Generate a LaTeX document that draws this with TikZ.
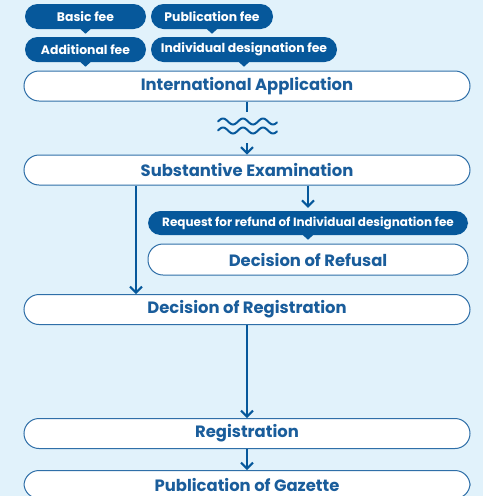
\documentclass[tikz,border=0pt]{standalone}
\usepackage{fontspec}
\setmainfont{Poppins}
\usetikzlibrary{arrows.meta}
\definecolor{bg}{HTML}{E1F2FB}
\definecolor{navy}{HTML}{06589B}
\definecolor{txt}{HTML}{1A5D9B}
\definecolor{edge}{HTML}{2F6FA8}
\begin{document}
\begin{tikzpicture}[x=1pt,y=-1pt,
  box/.style={draw=edge, line width=1pt, fill=white, rounded corners=15pt,
    minimum width=446pt, minimum height=30pt, inner sep=0pt, text=txt,
    font=\fontsize{16.4}{16}\selectfont\bfseries},
  tag/.style={fill=navy, rounded corners=12.5pt, minimum height=25pt,
    inner sep=0pt, text=white, font=\fontsize{12.4}{12}\selectfont\bfseries},
  conn/.style={draw=navy, line width=2pt},
  arr/.style={conn, -{Straight Barb[length=6pt,width=12pt,line width=2pt]}},
  wave/.style={draw=navy, line width=2pt, line cap=round}]
\fill[bg] (0,0) rectangle (483,496);
\useasboundingbox (0,0) rectangle (483,496);
% tags
\node[tag, minimum width=121pt] (basic) at (85.5,16.5) {Basic fee};
\node[tag, minimum width=122pt] (pub) at (212,16.5) {Publication fee};
\node[tag, minimum width=121pt] (add) at (85.5,49.5) {Additional fee};
\node[tag, minimum width=186pt] (ind) at (244,49.5) {Individual designation fee};
% main boxes
\node[box] (intl) at (247,86) {International Application};
\node[box] (subst) at (247,170) {Substantive Examination};
\node[tag, minimum width=320pt, minimum height=24pt, font=\fontsize{12}{12}\selectfont\bfseries] (req) at (308,223) {Request for refund of Individual designation fee};
\node[box, minimum width=320pt, minimum height=31pt] (refusal) at (308,259.5) {Decision of Refusal};
\node[box] (decreg) at (247,309.5) {Decision of Registration};
\node[box] (reg) at (247,433.5) {Registration};
\node[box, minimum height=28pt] (gaz) at (247,484.5) {Publication of Gazette};
% pointers
\foreach \n in {basic,pub,add,ind,req}
  \fill[navy] ([xshift=-5pt]\n.south) -- ([xshift=5pt]\n.south) -- ([yshift=-4.5pt]\n.south) -- cycle;
% wave
\coordinate (wtop) at (247,112);
\coordinate (wbot) at (247,143);
\coordinate (leftx) at (136,0);
\draw[conn] (intl.south) -- (wtop);
\draw[wave, domain=0:59, samples=80] plot ({218+\x},{121.5-3*sin(\x*18)});
\draw[wave, domain=0:59, samples=80] plot ({218+\x},{130.5-3*sin(\x*18)});
\draw[arr] (wbot) -- (subst.north);
% connectors
\draw[arr] (subst.south -| leftx) -- (decreg.north -| leftx);
\draw[arr, shorten >=3pt] (subst.south -| req.north) -- (req.north);
\draw[arr] (decreg.south) -- (reg.north);
\draw[arr] (reg.south) -- (gaz.north);
\end{tikzpicture}
\end{document}
